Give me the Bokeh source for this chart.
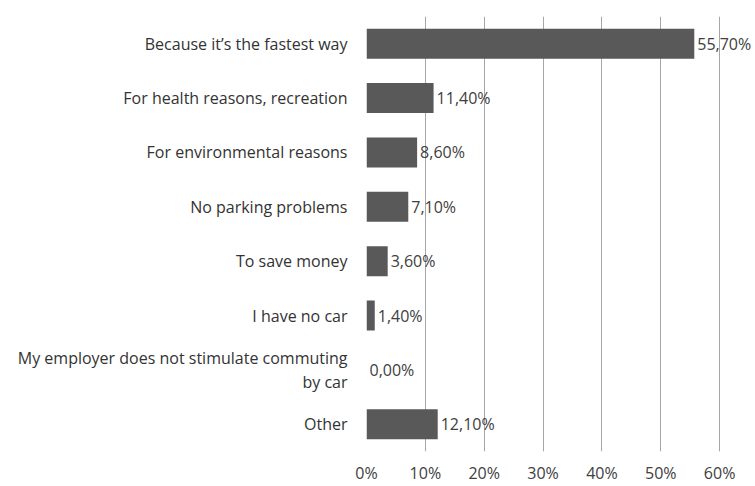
from bokeh.plotting import figure
from bokeh.models import ColumnDataSource, FactorRange, Range1d, FixedTicker, LabelSet
from bokeh.core.properties import value
from bokeh.embed import file_html
from bokeh.resources import INLINE

categories = [
    "Because it’s the fastest way",
    "For health reasons, recreation",
    "For environmental reasons",
    "No parking problems",
    "To save money",
    "I have no car",
    "My employer does not stimulate commuting\nby car",
    "Other",
]
values = [55.7, 11.4, 8.6, 7.1, 3.6, 1.4, 0.0, 12.1]
value_labels = ["55,70%", "11,40%", "8,60%", "7,10%", "3,60%", "1,40%", "0,00%", "12,10%"]
tick_values = [0, 10, 20, 30, 40, 50, 60]
tick_labels = ["0%", "10%", "20%", "30%", "40%", "50%", "60%"]

FONT = "Open Sans"
FS = "16px"

src = ColumnDataSource(dict(cat=categories, val=values, lab=value_labels))

# frame spans to the right edge so value labels are not clipped; 60% sits at x≈719
p = figure(
    width=755, height=486,
    y_range=FactorRange(factors=list(reversed(categories))),
    x_range=Range1d(0, 66.1),
    output_backend="svg", toolbar_location=None,
    min_border_left=366, min_border_right=0,
    min_border_top=16, min_border_bottom=35,
)
p.outline_line_color = None
p.background_fill_color = "white"
p.border_fill_color = "white"

p.hbar(y="cat", right="val", left=0, height=0.55, source=src,
       fill_color="#595959", line_color=None)

labels = LabelSet(x="val", y="cat", text="lab", source=src,
                  x_offset=3, text_align="left", text_baseline="middle",
                  text_font=value(FONT), text_font_size=value(FS),
                  text_color="#404040")
p.add_layout(labels)

p.xaxis.ticker = FixedTicker(ticks=tick_values)
p.xaxis.major_label_overrides = {v: l for v, l in zip(tick_values, tick_labels)}
p.xaxis.axis_line_color = None
p.xaxis.major_tick_line_color = None
p.xaxis.minor_tick_line_color = None
p.xaxis.major_label_standoff = 4
p.xaxis.major_label_text_font = FONT
p.xaxis.major_label_text_font_size = FS
p.xaxis.major_label_text_color = "#404040"

p.yaxis.axis_line_color = None
p.yaxis.major_tick_line_color = None
p.yaxis.minor_tick_line_color = None
p.yaxis.major_label_standoff = 13
p.yaxis.major_label_text_font = FONT
p.yaxis.major_label_text_font_size = FS
p.yaxis.major_label_text_line_height = 1.1
p.yaxis.major_label_text_color = "#333333"

p.xgrid.grid_line_color = "#a6a6a6"
p.xgrid.grid_line_width = 1
p.ygrid.grid_line_color = None

open("out.html", "w").write(file_html(p, INLINE))
